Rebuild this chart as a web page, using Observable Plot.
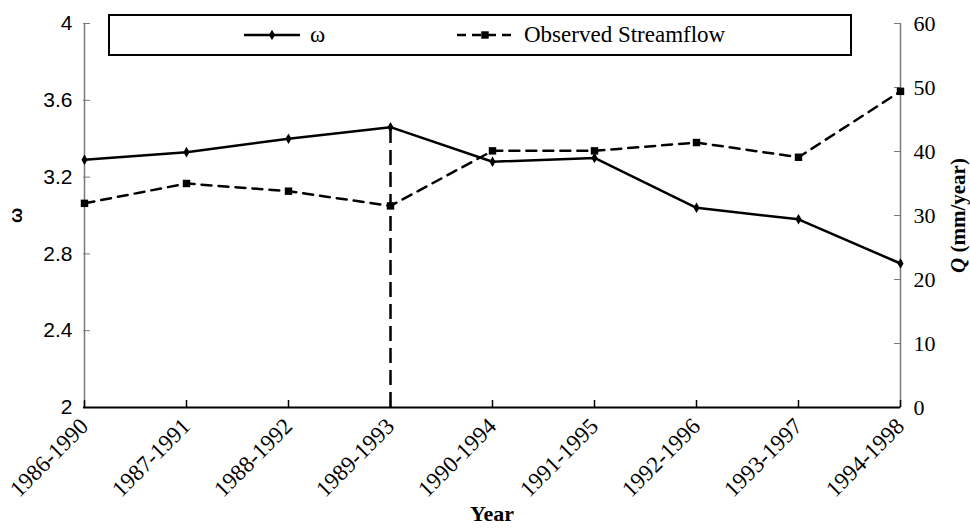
<!DOCTYPE html>
<html><head><meta charset="utf-8">
<script src="https://cdn.jsdelivr.net/npm/d3@7"></script>
<script src="https://cdn.jsdelivr.net/npm/@observablehq/plot@0.6"></script>
<style>
body{margin:0;background:#fff;}
#wrap{position:relative;width:970px;height:529px;}
#legend{position:absolute;left:108px;top:14px;width:740px;height:38px;border:2px solid #000;background:#fff;font-family:"Liberation Serif","Times New Roman",serif;font-size:23px;z-index:2;}
#legend .it{position:absolute;top:0;height:38px;line-height:38px;white-space:nowrap;}
#legend svg{position:absolute;top:0;}
</style></head><body><div id="wrap"><div id="legend"></div></div>
<script>
const periods = ["1986-1990","1987-1991","1988-1992","1989-1993","1990-1994","1991-1995","1992-1996","1993-1997","1994-1998"];
const omega = [3.29, 3.33, 3.40, 3.46, 3.28, 3.30, 3.04, 2.98, 2.75];
const streamflow = [31.9, 35.0, 33.8, 31.5, 40.1, 40.1, 41.4, 39.1, 49.4];
const leftTicks = [2, 2.4, 2.8, 3.2, 3.6, 4];
const rightTicks = [0, 10, 20, 30, 40, 50, 60];
const seriesNames = ["ω", "Observed Streamflow"];
const breakPeriod = "1989-1993";
const breakTop = 3.49;
const xLabel = "Year";
const yLabel = "ω";
const y2Label = "Q (mm/year)";

const rows = periods.map((p, i) => ({period: p, omega: omega[i], q: streamflow[i]}));
const toW = q => 2 + q / 30;
const serif = "'Liberation Serif','Times New Roman',serif";
const sans = "'Liberation Sans',Arial,sans-serif";

const chart = Plot.plot({
  width: 970, height: 529,
  marginLeft: 83, marginRight: 70, marginTop: 23, marginBottom: 122,
  style: {background: "transparent", color: "#000", overflow: "visible"},
  x: {type: "point", domain: periods, padding: 0},
  y: {domain: [2, 4]},
  marks: [
    Plot.ruleX([periods[0]], {stroke: "#7a7a7a", strokeWidth: 1.5}),
    Plot.ruleX([periods[periods.length - 1]], {stroke: "#7a7a7a", strokeWidth: 1.5}),
    Plot.axisY(leftTicks, {anchor: "left", tickSize: 7, dx: 7, tickFormat: () => "", stroke: "#7a7a7a", label: null}),
    Plot.axisY(leftTicks, {anchor: "left", tickSize: 0, tickPadding: 11, tickFormat: d => String(d), fontSize: 21, fontFamily: sans, label: null}),
    Plot.axisY(rightTicks.map(toW), {anchor: "right", tickSize: 7, dx: -7, tickFormat: () => "", stroke: "#7a7a7a", label: null}),
    Plot.axisY(rightTicks.map(toW), {anchor: "right", tickSize: 0, tickPadding: 13, tickFormat: d => String(Math.round((d - 2) * 30)), fontSize: 22, fontFamily: serif, label: null}),
    Plot.axisX(periods, {anchor: "bottom", tickSize: 7, dy: -7, tickFormat: () => "", stroke: "#000", strokeWidth: 1.5, label: null}),
    Plot.axisX(periods, {anchor: "bottom", tickSize: 0, tickPadding: 15, tickRotate: -45, fontSize: 23, fontFamily: serif, label: null}),
    Plot.ruleY([2], {stroke: "#000", strokeWidth: 2}),
    Plot.ruleX([breakPeriod], {y1: 2, y2: breakTop, stroke: "#000", strokeWidth: 2.5, strokeDasharray: "15,7"}),
    Plot.line(rows, {x: "period", y: d => toW(d.q), stroke: "#000", strokeWidth: 2.5, strokeDasharray: "10,7"}),
    Plot.dot(rows, {x: "period", y: d => toW(d.q), symbol: "square", r: 4.2, fill: "#000", stroke: null}),
    Plot.line(rows, {x: "period", y: "omega", stroke: "#000", strokeWidth: 2.5}),
    Plot.dot(rows, {x: "period", y: "omega", symbol: "diamond", r: 3.2, fill: "#000", stroke: null}),
    Plot.text([xLabel], {text: d => d, frameAnchor: "bottom", dy: 113, textAnchor: "middle", fontWeight: "bold", fontSize: 22, fontFamily: serif}),
    Plot.text([yLabel], {text: d => d, frameAnchor: "left", dx: -67, rotate: -90, textAnchor: "middle", fontWeight: "bold", fontSize: 18, fontFamily: sans}),
    Plot.text([y2Label], {text: d => d, frameAnchor: "right", dx: 58, rotate: -90, textAnchor: "middle", fontWeight: "bold", fontSize: 21, fontFamily: serif})
  ]
});

d3.select(chart).selectAll("text").filter(function() { return this.textContent === y2Label; }).each(function() {
  const t = d3.select(this);
  t.text(null);
  t.append("tspan").attr("font-style", "italic").text("Q");
  t.append("tspan").text(" (mm/year)");
});

document.getElementById("wrap").appendChild(chart);

// legend
const legend = d3.select("#legend");
const items = [
  {name: seriesNames[0], swX: 134, txX: 200, dash: null, sym: "diamond"},
  {name: seriesNames[1], swX: 347, txX: 414, dash: "9,6", sym: "square"}
];
items.forEach(it => {
  const s = legend.append("svg").attr("width", 56).attr("height", 38).style("left", it.swX + "px");
  s.append("line").attr("x1", 0).attr("x2", 56).attr("y1", 19).attr("y2", 19)
    .attr("stroke", "#000").attr("stroke-width", 2.5).attr("stroke-dasharray", it.dash);
  const sym = it.sym === "square" ? d3.symbolSquare : d3.symbolDiamond;
  const size = it.sym === "square" ? 55 : 32;
  s.append("path").attr("d", d3.symbol(sym, size)()).attr("transform", "translate(28,19)").attr("fill", "#000");
  legend.append("span").attr("class", "it").style("left", it.txX + "px").text(it.name);
});
</script>
</body></html>
